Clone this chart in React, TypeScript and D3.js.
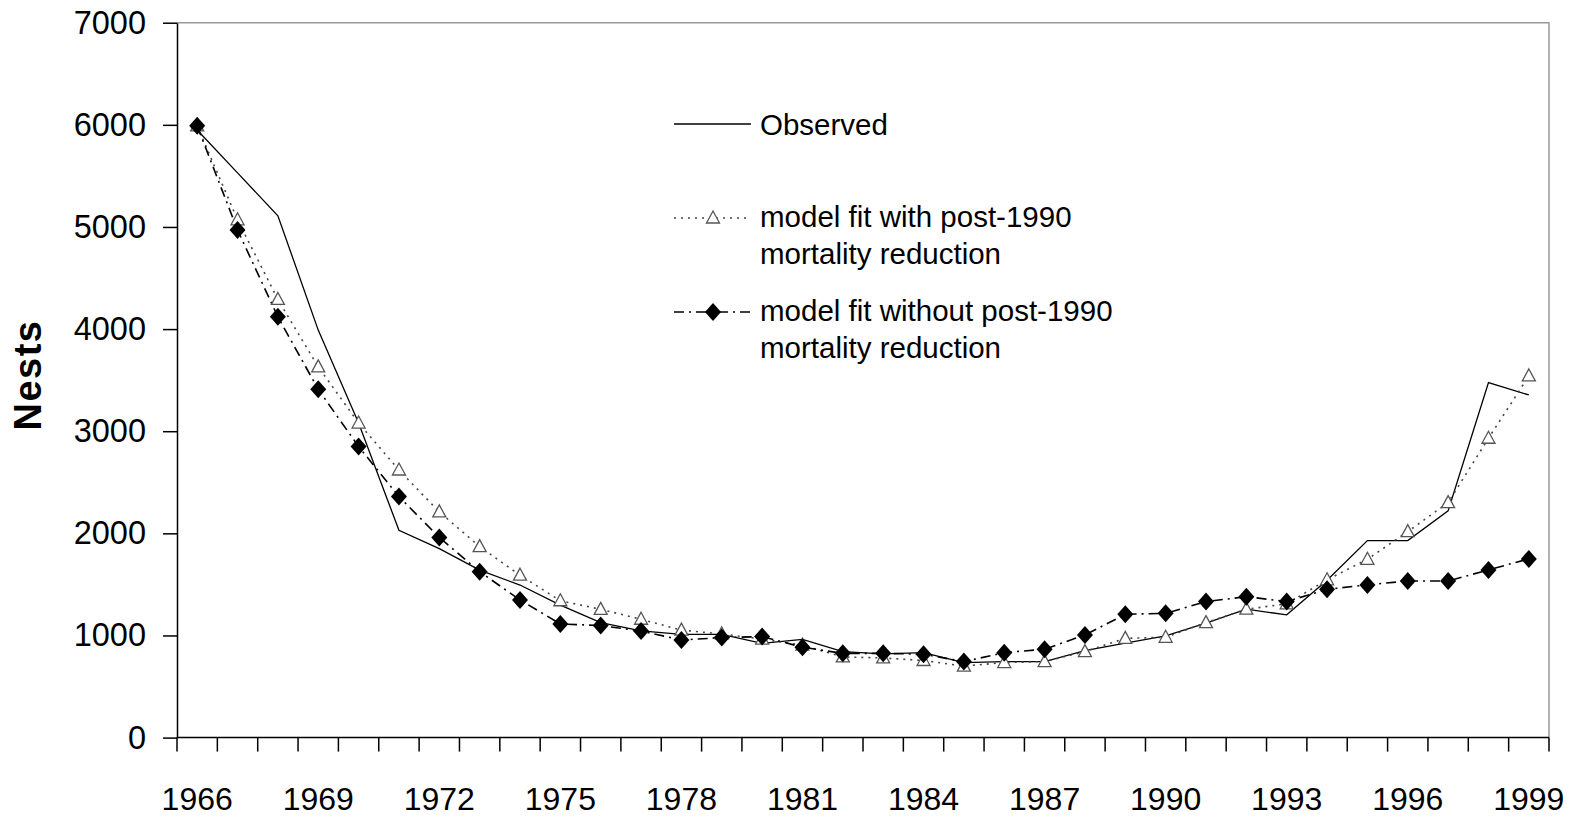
import { useRef, useEffect } from "react";
import * as d3 from "d3";

const years = [
    1966, 1967, 1968, 1969, 1970, 1971, 1972, 1973, 1974, 1975, 1976, 1977,
    1978, 1979, 1980, 1981, 1982, 1983, 1984, 1985, 1986, 1987, 1988, 1989,
    1990, 1991, 1992, 1993, 1994, 1995, 1996, 1997, 1998, 1999,
];

const observed = [
    5950, 5530, 5110, 3990, 3080, 2030, 1850, 1640, 1494, 1298, 1125, 1044,
    1011, 1011, 923, 962, 842, 819, 832, 734, 744, 744, 852, 924,
    996, 1120, 1257, 1202, 1540, 1929, 1929, 2220, 3476, 3355,
];

const withReduction = [
    5990, 5070, 4290, 3630, 3080, 2620, 2210, 1870, 1590, 1340, 1256, 1159,
    1052, 1015, 965, 905, 790, 780, 755, 700, 735, 744, 842, 972,
    982, 1126, 1257, 1310, 1545, 1746, 2017, 2301, 2931, 3541,
];

const withoutReduction = [
    5990, 4970, 4120, 3410, 2850, 2360, 1960, 1625, 1348, 1113, 1097, 1044,
    956, 979, 989, 885, 825, 825, 816, 744, 832, 865, 1005, 1207,
    1217, 1332, 1380, 1332, 1452, 1495, 1534, 1534, 1642, 1750,
];

const yTicks = [0, 1000, 2000, 3000, 4000, 5000, 6000, 7000];
const xLabelYears = [1966, 1969, 1972, 1975, 1978, 1981, 1984, 1987, 1990, 1993, 1996, 1999];

const W = 1580;
const H = 818;
const FONT = "'Liberation Sans', Arial, sans-serif";

const DOTTED = "2,5";
const DASHDOT = "10,5,2,5";

export default function App() {
    const svgRef = useRef<SVGSVGElement | null>(null);

    useEffect(() => {
        if (!svgRef.current) return;
        const svg = d3.select(svgRef.current);
        svg.selectAll("*").remove();

        const margin = { top: 22.7, right: 31, bottom: 80.4, left: 177 };

        const x = d3
            .scaleBand<number>()
            .domain(years)
            .range([margin.left, W - margin.right])
            .padding(0);

        const y = d3
            .scaleLinear()
            .domain([0, 7000])
            .range([H - margin.bottom, margin.top]);

        const cx = (yr: number) => x(yr)! + x.bandwidth() / 2;

        // plot frame: grey top/right
        svg.append("path")
            .attr("d", `M${margin.left},${y(7000)}H${W - margin.right}V${y(0)}`)
            .attr("fill", "none")
            .attr("stroke", "#9a9a9a")
            .attr("stroke-width", 1.5);

        // Y axis
        const yAxis = svg
            .append("g")
            .attr("transform", `translate(${margin.left},0)`)
            .call(
                d3.axisLeft(y)
                    .tickValues(yTicks)
                    .tickFormat(d3.format("d"))
                    .tickSize(14)
                    .tickPadding(17)
                    .tickSizeOuter(0)
            );
        yAxis.select(".domain").attr("stroke", "#000").attr("stroke-width", 1.5);
        yAxis.selectAll(".tick line").attr("stroke", "#000").attr("stroke-width", 1.5);
        yAxis.selectAll("text")
            .attr("font-family", FONT)
            .attr("font-size", 32.5)
            .attr("fill", "#000");

        // X axis line + ticks at category boundaries
        const xg = svg.append("g");
        xg.append("line")
            .attr("x1", margin.left)
            .attr("x2", W - margin.right)
            .attr("y1", y(0))
            .attr("y2", y(0))
            .attr("stroke", "#000")
            .attr("stroke-width", 1.5);
        const bounds = years.map(yr => x(yr)!).concat([x(years[years.length - 1])! + x.bandwidth()]);
        xg.selectAll("line.tick")
            .data(bounds)
            .enter()
            .append("line")
            .attr("class", "tick")
            .attr("x1", d => d)
            .attr("x2", d => d)
            .attr("y1", y(0))
            .attr("y2", y(0) + 14)
            .attr("stroke", "#000")
            .attr("stroke-width", 1.5);
        xg.selectAll("text")
            .data(xLabelYears)
            .enter()
            .append("text")
            .attr("x", d => cx(d))
            .attr("y", 810)
            .attr("text-anchor", "middle")
            .attr("font-family", FONT)
            .attr("font-size", 32)
            .text(d => d);

        // Y title
        svg.append("text")
            .attr("transform", `translate(41,375) rotate(-90)`)
            .attr("text-anchor", "middle")
            .attr("font-family", FONT)
            .attr("font-weight", "bold")
            .attr("font-size", 38)
            .attr("letter-spacing", 1.5)
            .text("Nests");

        const line = (vals: number[]) =>
            d3.line<number>()
                .x((_d, i) => cx(years[i]))
                .y(d => y(d))(vals)!;

        svg.append("path")
            .attr("d", line(observed))
            .attr("fill", "none")
            .attr("stroke", "#000")
            .attr("stroke-width", 1.3);

        svg.append("path")
            .attr("d", line(withReduction))
            .attr("fill", "none")
            .attr("stroke", "#444")
            .attr("stroke-width", 1.6)
            .attr("stroke-dasharray", DOTTED);

        svg.append("path")
            .attr("d", line(withoutReduction))
            .attr("fill", "none")
            .attr("stroke", "#000")
            .attr("stroke-width", 1.6)
            .attr("stroke-dasharray", DASHDOT);

        const triangle = (px: number, py: number) =>
            `M${px},${py - 7}L${px + 6.5},${py + 5}L${px - 6.5},${py + 5}Z`;
        const diamond = (px: number, py: number) =>
            `M${px},${py - 9}L${px + 8},${py}L${px},${py + 9}L${px - 8},${py}Z`;

        svg.append("g")
            .selectAll("path")
            .data(withReduction)
            .enter()
            .append("path")
            .attr("d", (d, i) => triangle(cx(years[i]), y(d)))
            .attr("fill", "#fff")
            .attr("stroke", "#555")
            .attr("stroke-width", 1.3);

        svg.append("g")
            .selectAll("path")
            .data(withoutReduction)
            .enter()
            .append("path")
            .attr("d", (d, i) => diamond(cx(years[i]), y(d)))
            .attr("fill", "#000");

        // Legend
        const lg = svg.append("g").attr("font-family", FONT).attr("font-size", 29.5);
        lg.append("line")
            .attr("x1", 674).attr("x2", 751).attr("y1", 124).attr("y2", 124)
            .attr("stroke", "#000").attr("stroke-width", 1.3);
        lg.append("text").attr("x", 760).attr("y", 135).text("Observed");

        lg.append("line")
            .attr("x1", 674).attr("x2", 751).attr("y1", 218).attr("y2", 218)
            .attr("stroke", "#444").attr("stroke-width", 1.6)
            .attr("stroke-dasharray", DOTTED);
        lg.append("path")
            .attr("d", triangle(713, 218))
            .attr("fill", "#fff").attr("stroke", "#555").attr("stroke-width", 1.3);
        lg.append("text").attr("x", 760).attr("y", 227).text("model fit with post-1990");
        lg.append("text").attr("x", 760).attr("y", 264).text("mortality reduction");

        lg.append("line")
            .attr("x1", 674).attr("x2", 751).attr("y1", 312).attr("y2", 312)
            .attr("stroke", "#000").attr("stroke-width", 1.6)
            .attr("stroke-dasharray", DASHDOT);
        lg.append("path").attr("d", diamond(713, 312)).attr("fill", "#000");
        lg.append("text").attr("x", 760).attr("y", 321).text("model fit without post-1990");
        lg.append("text").attr("x", 760).attr("y", 358).text("mortality reduction");
    }, []);

    return (
        <svg
            ref={svgRef}
            width={W}
            height={H}
            style={{ position: "absolute", left: 0, top: 0, background: "#fff" }}
        />
    );
}
